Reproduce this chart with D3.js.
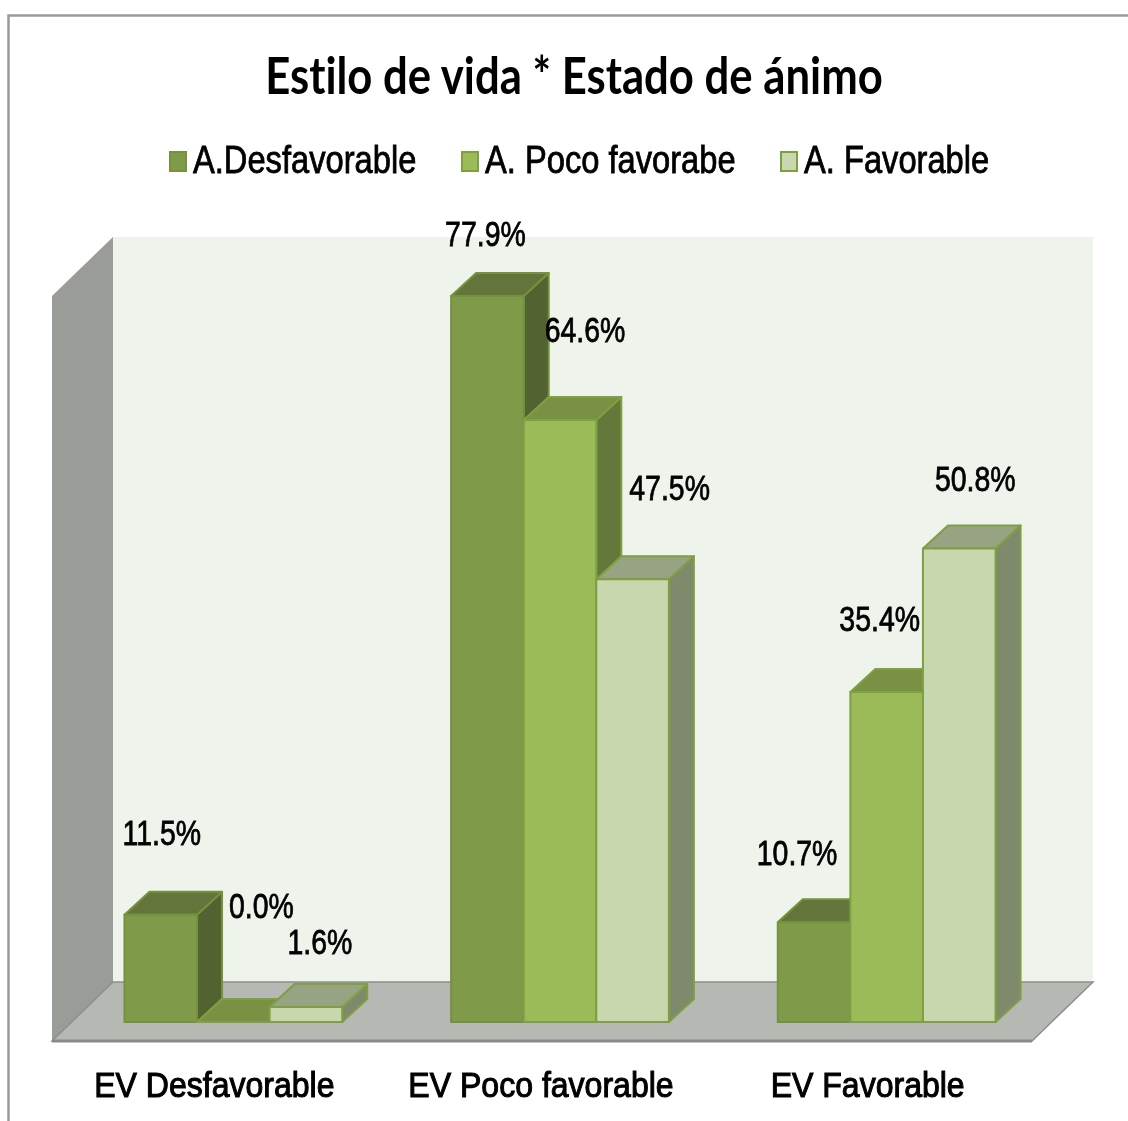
<!DOCTYPE html>
<html><head><meta charset="utf-8">
<style>html,body{margin:0;padding:0;background:#fff;overflow:hidden}svg{display:block;filter:blur(0.5px)}text{font-variant-ligatures:none}</style>
<script src="https://cdn.jsdelivr.net/npm/d3@7"></script></head>
<body><script>
const titleText = "Estilo de vida * Estado de ánimo";
const categories = ["EV Desfavorable", "EV Poco favorable", "EV Favorable"];
const seriesNames = ["A.Desfavorable", "A. Poco favorabe", "A. Favorable"];
const desfavorable = [11.5, 77.9, 10.7];
const pocoFavorable = [0.0, 64.6, 35.4];
const favorable = [1.6, 47.5, 50.8];
const seriesValues = [desfavorable, pocoFavorable, favorable];

const fronts = ["#7F9A48", "#9BBB59", "#C8D7AD"];
const tops = ["#63753A", "#7A9144", "#98A383"];
const sides = ["#526230", "#63783A", "#7F8A6C"];
const strokes = ["#76923C", "#7E9F42", "#7E9F42"];
// label anchor offsets from each bar's front-top-centre [series][category]
const labelOffsets = [
  [[1, -70], [-2, -50], [-17, -57]],
  [[28, -104], [25, -78], [-7, -61]],
  [[14, -53], [37, -79], [16, -58]]
];
const legendX = [169, 461, 780];

const W = 1128, H = 1121, depthX = 25, depthY = 23;
const svg = d3.select("body").append("svg").attr("width", W).attr("height", H);
const FONT = "'Liberation Sans', Arial, sans-serif";

const x0 = d3.scaleBand().domain(categories).range([70, 1050]).paddingInner(1/3).paddingOuter(1/6);
const x1 = d3.scaleBand().domain(d3.range(seriesNames.length)).range([0, x0.bandwidth()]);
const y = d3.scaleLinear().domain([0, 80]).range([1022, 1022 - 9.32 * 80]);

// frame
svg.append("rect").attr("x", 8.5).attr("y", 15.5).attr("width", 1200).attr("height", 1200)
  .attr("fill", "#fff").attr("stroke", "#9a9a9a").attr("stroke-width", 2.5);

// walls
const poly = pts => pts.map(p => p.join(",")).join(" ");
svg.append("polygon").attr("points", poly([[113,237],[1093,237],[1093,982],[113,982]])).attr("fill", "#EEF3EB");
svg.append("polygon").attr("points", poly([[52,296],[113,237],[113,982],[52,1041]])).attr("fill", "#9A9C98");
svg.append("polygon").attr("points", poly([[52,1041],[113,982],[1093,982],[1032,1041]])).attr("fill", "#B6B8B3");
svg.append("path").attr("d", "M52,1041L113,982H1093L1032,1041Z").attr("fill", "none").attr("stroke", "#8E8F8C").attr("stroke-width", 1.5);
svg.append("path").attr("d", "M52,1041H1032").attr("stroke", "#8A8B88").attr("stroke-width", 3);

// bars
const bars = [];
seriesValues.forEach((vals, s) => vals.forEach((v, c) => bars.push({s, c, v})));
bars.sort((a, b) => a.c - b.c || a.s - b.s);
const g = svg.append("g").selectAll("g").data(bars).join("g")
  .attr("stroke-linejoin", "round").attr("stroke-width", 2);
const bx = d => x0(categories[d.c]) + x1(d.s);
const bw = x1.bandwidth();
g.append("polygon").attr("points", d => {
    const a = bx(d) + bw, t = y(d.v), b = y(0);
    return poly([[a,t],[a+depthX,t-depthY],[a+depthX,b-depthY],[a,b]]);
  }).attr("fill", d => sides[d.s]).attr("stroke", d => strokes[d.s]);
g.append("polygon").attr("points", d => {
    const a = bx(d), t = y(d.v);
    return poly([[a,t],[a+depthX,t-depthY],[a+bw+depthX,t-depthY],[a+bw,t]]);
  }).attr("fill", d => tops[d.s]).attr("stroke", d => strokes[d.s]);
g.append("rect").attr("x", bx).attr("y", d => y(d.v)).attr("width", bw)
  .attr("height", d => y(0) - y(d.v)).attr("fill", d => fronts[d.s]).attr("stroke", d => strokes[d.s]);

// data labels
svg.append("g").selectAll("text").data(bars).join("text")
  .attr("text-anchor", "middle").attr("font-size", 36)
  .attr("font-family", FONT).attr("fill", "#000").attr("stroke", "#000").attr("stroke-width", 0.8)
  .attr("transform", d => `translate(${bx(d) + bw / 2 + labelOffsets[d.s][d.c][0]},${y(d.v) + labelOffsets[d.s][d.c][1]}) scale(0.79,1)`)
  .text(d => d.v.toFixed(1) + "%");

// category axis
const axis = svg.append("g").attr("transform", "translate(-19,1097)")
  .call(d3.axisBottom(x0).tickSize(0).tickPadding(0));
axis.select(".domain").remove();
axis.selectAll("text").attr("dy", 0).attr("y", 0).attr("x", 0).attr("font-family", FONT).attr("font-size", 36)
  .attr("fill", "#000").attr("stroke", "#000").attr("stroke-width", 1.1).attr("text-anchor", "middle")
  .attr("transform", "scale(0.89,1)");

// legend
const leg = svg.append("g").selectAll("g").data(seriesNames).join("g")
  .attr("transform", (d, i) => `translate(${legendX[i]},0)`);
leg.append("rect").attr("x", 1).attr("y", 152).attr("width", 16).attr("height", 19)
  .attr("fill", (d, i) => fronts[i]).attr("stroke", (d, i) => strokes[i]).attr("stroke-width", 2);
leg.append("text").attr("transform", "translate(24,173) scale(0.86,1)")
  .attr("font-family", FONT).attr("font-size", 38).attr("fill", "#000").attr("stroke", "#000").attr("stroke-width", 0.8)
  .text(d => d);

// title
svg.append("text").attr("transform", "translate(574,94) scale(0.84,1)").attr("text-anchor", "middle")
  .attr("font-family", "Lato, 'Open Sans', sans-serif").attr("font-weight", 700).attr("font-size", 52).attr("fill", "#000")
  .text(titleText);
</script></body></html>
